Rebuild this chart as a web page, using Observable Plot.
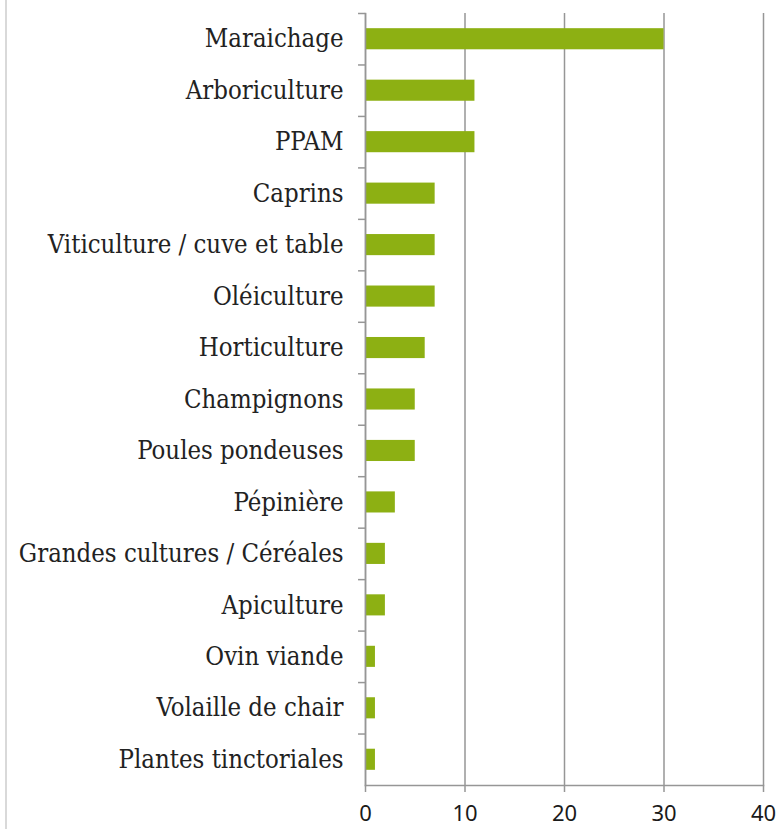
<!DOCTYPE html>
<html>
<head>
<meta charset="utf-8">
<script src="https://cdn.jsdelivr.net/npm/d3@7"></script>
<script src="https://cdn.jsdelivr.net/npm/@observablehq/plot@0.6"></script>
<style>
  html, body { margin: 0; padding: 0; background: #fff; }
  #wrap { position: relative; width: 781px; height: 829px; }
  #wrap::before { content: ""; position: absolute; left: 5px; top: 0; width: 2px; height: 829px; background: #d9d9d9; }
  #wrap svg { display: block; }
  .ylab text { font-stretch: condensed; }
</style>
</head>
<body>
<div id="wrap"></div>
<script>
const categories = [
  "Maraichage", "Arboriculture", "PPAM", "Caprins", "Viticulture / cuve et table",
  "Oléiculture", "Horticulture", "Champignons", "Poules pondeuses", "Pépinière",
  "Grandes cultures / Céréales", "Apiculture", "Ovin viande", "Volaille de chair", "Plantes tinctoriales"
];
const values = [30, 11, 11, 7, 7, 7, 6, 5, 5, 3, 2, 2, 1, 1, 1];
const xTicks = [0, 10, 20, 30, 40];

const data = categories.map((c, i) => ({category: c, value: values[i]}));

const W = 781, H = 829, mT = 13, mB = 44, mL = 365, mR = 18;
const step = (H - mT - mB) / categories.length;
const grid = "#969696";

const chart = Plot.plot({
  width: W,
  height: H,
  marginTop: mT,
  marginBottom: mB,
  marginLeft: mL,
  marginRight: mR,
  style: {background: "transparent", fontFamily: "DejaVu Serif", color: "#1a1a1a"},
  x: {domain: [0, 40], ticks: xTicks, label: null},
  y: {domain: categories, paddingInner: 0.59, paddingOuter: 0.295, round: false, label: null},
  marks: [
    Plot.gridX(xTicks, {stroke: grid, strokeOpacity: 1, strokeWidth: 1.5}),
    Plot.barX(data, {x: "value", y: "category", fill: "#8db013"}),
    // category boundary ticks on the left
    Plot.ruleY(categories, {y: d => d, dy: -step / 2, x1: -0.7, x2: 0, stroke: grid, strokeWidth: 1.5}),
    Plot.frame({anchor: "bottom", stroke: grid, strokeWidth: 1.5}),
    Plot.frame({anchor: "left", stroke: grid, strokeWidth: 1.5}),
    Plot.axisX(xTicks, {
      tickSize: 7, tickPadding: 13, stroke: grid, strokeWidth: 1.5, label: null,
      fontSize: 22, fontFamily: "Noto Sans", fill: "#1a1a1a", tickFormat: d => String(d)
    }),
    Plot.axisY({
      tickSize: 0, tickPadding: 22, fontSize: 25.5, label: null, className: "ylab",
      fontFamily: "'DejaVu Serif Condensed', 'DejaVu Serif'", fill: "#222"
    })
  ]
});
document.getElementById("wrap").appendChild(chart);
</script>
</body>
</html>
